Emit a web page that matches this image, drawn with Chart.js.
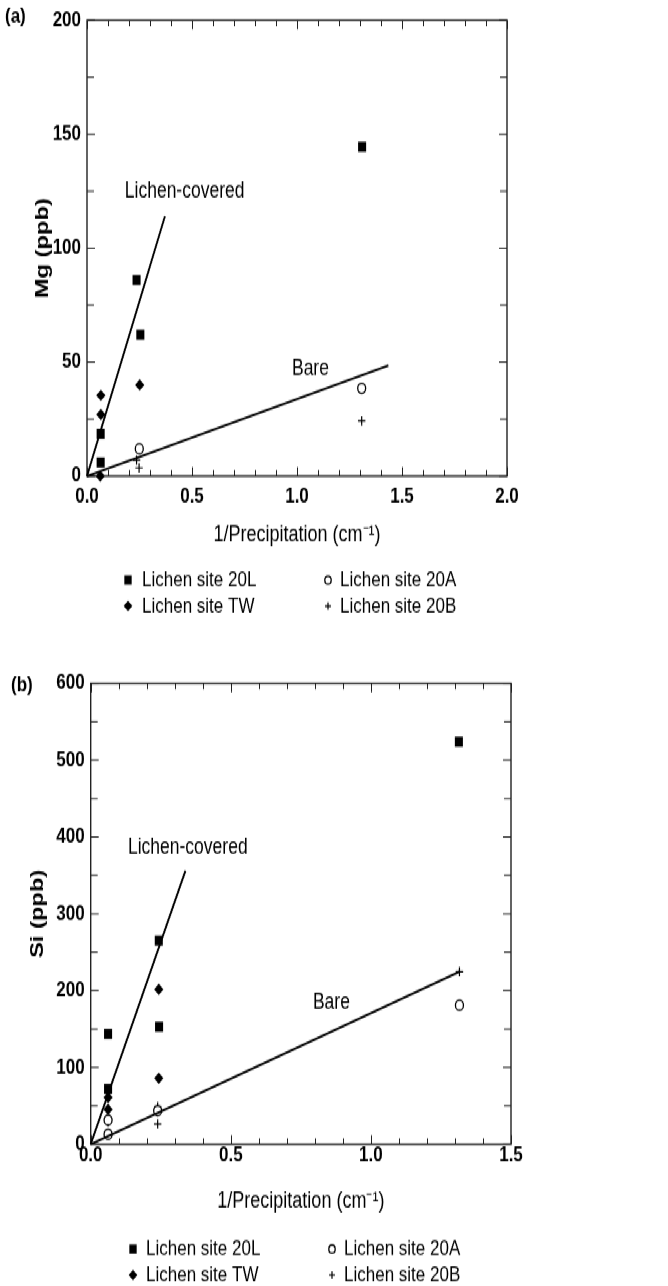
<!DOCTYPE html>
<html>
<head>
<meta charset="utf-8">
<script src="https://cdn.jsdelivr.net/npm/chart.js@4.4.1/dist/chart.umd.min.js"></script>
<style>
  body { margin: 0; background: #fff; }
  /* the printed figure is taller than it is wide by about 1.25 */
  #stage { position: absolute; left: 0; top: 0; width: 668px; height: 1029px;
           transform: scaleY(1.25); transform-origin: 0 0; }
  #stage canvas { position: absolute; left: 0; }
</style>
</head>
<body>
<div id="stage">
  <canvas id="chart-a" width="668" height="512" style="top:0"></canvas>
  <canvas id="chart-b" width="668" height="517" style="top:512px"></canvas>
</div>
<script>
// values, [1/precipitation, concentration]
const siteNames = ['Lichen site 20L', 'Lichen site TW', 'Lichen site 20A', 'Lichen site 20B'];

// (a) Mg
const mg20L = [[0.065, 18.5], [0.065, 6], [0.236, 86], [0.254, 62], [1.31, 144.5]];
const mgTW = [[0.066, 35.4], [0.066, 27], [0.251, 40], [0.063, 0]];
const mg20A = [[0.249, 12], [1.308, 38.5]];
const mg20B = [[0.236, 7], [0.248, 3.6], [1.308, 24.2]];
const mgLichenLine = [[0, 0], [0.371, 114]];
const mgBareLine = [[0, 0], [1.435, 48.5]];
const mgXLabels = ['0.0', '0.5', '1.0', '1.5', '2.0'];
const mgYLabels = ['0', '50', '100', '150', '200'];

// (b) Si
const si20L = [[0.062, 143.6], [0.062, 72], [0.243, 265], [0.244, 153], [1.314, 524]];
const siTW = [[0.243, 201.7], [0.243, 86], [0.062, 61], [0.062, 45.5]];
const si20A = [[1.316, 181], [0.239, 43.7], [0.062, 31.6], [0.062, 13]];
const si20B = [[1.316, 224.7], [0.239, 49], [0.239, 26.4], [0.062, 29]];
const siLichenLine = [[0, 0], [0.338, 356]];
const siBareLine = [[0, 0], [1.318, 225]];
const siXLabels = ['0.0', '0.5', '1.0', '1.5'];
const siYLabels = ['0', '100', '200', '300', '400', '500', '600'];

const FONT = '"Liberation Sans", Arial, Helvetica, sans-serif';

function pts(arr) {
    return arr.map(p => ({ x: p[0], y: p[1] }));
}

// marker styles, shared by plot and key
const markers = [
    { pointStyle: 'rect', radius: 5.7, keyRadius: 5.2, bg: '#000', border: '#000', bw: 0 },
    { pointStyle: 'rectRot', radius: 4.6, keyRadius: 4.3, bg: '#000', border: '#000', bw: 0 },
    { pointStyle: 'circle', radius: 4, keyRadius: 3.2, bg: '#fff', border: '#000', bw: 1.3 },
    { pointStyle: 'cross', radius: 3.7, keyRadius: 3, bg: '#000', border: '#000', bw: 1.2 }
];

function pointSet(label, data, m) {
    return {
        label: label,
        data: pts(data),
        pointStyle: m.pointStyle,
        pointRadius: m.radius,
        pointHoverRadius: m.radius,
        pointBackgroundColor: m.bg,
        pointBorderColor: m.border,
        pointBorderWidth: m.bw,
        showLine: false,
        clip: false
    };
}

function lineSet(label, data) {
    return {
        label: label,
        data: pts(data),
        showLine: true,
        borderColor: '#000',
        borderWidth: 1.9,
        pointRadius: 0,
        pointHoverRadius: 0,
        clip: false
    };
}

function isMajor(v, step) {
    return Math.abs(v / step - Math.round(v / step)) < 1e-6;
}

// box around the plot with inward ticks on all four sides
const framePlugin = {
    id: 'frame',
    beforeDatasetsDraw(chart, args, opts) {
        const ctx = chart.ctx;
        const a = chart.chartArea;
        const xs = chart.scales.x;
        const ys = chart.scales.y;
        ctx.save();
        ctx.strokeStyle = '#222';
        ctx.lineWidth = 1.4;
        ctx.strokeRect(a.left, a.top, a.right - a.left, a.bottom - a.top);
        ctx.lineWidth = 1;
        ctx.beginPath();
        xs.ticks.forEach(t => {
            const px = Math.round(xs.getPixelForValue(t.value)) + 0.5;
            const len = isMajor(t.value, opts.xMajor) ? 7.2 : 4.8;
            ctx.moveTo(px, a.bottom);
            ctx.lineTo(px, a.bottom - len);
            ctx.moveTo(px, a.top);
            ctx.lineTo(px, a.top + len);
        });
        ys.ticks.forEach(t => {
            const py = ys.getPixelForValue(t.value);
            const len = isMajor(t.value, opts.yMajor) ? 8 : 7;
            ctx.moveTo(a.left, py);
            ctx.lineTo(a.left + len, py);
            ctx.moveTo(a.right, py);
            ctx.lineTo(a.right - len, py);
        });
        ctx.stroke();
        ctx.restore();
    }
};

// line labels, panel letter and the two-column key
const textPlugin = {
    id: 'texts',
    afterDraw(chart, args, opts) {
        const ctx = chart.ctx;
        const xs = chart.scales.x;
        const ys = chart.scales.y;
        ctx.save();
        ctx.fillStyle = '#000';
        ctx.textBaseline = 'middle';
        ctx.textAlign = 'left';
        ctx.font = '17.5px ' + FONT;
        opts.notes.forEach(n => {
            ctx.fillText(n.text, xs.getPixelForValue(n.x), ys.getPixelForValue(n.y));
        });
        ctx.font = 'bold 17px ' + FONT;
        ctx.fillText(opts.panel.text, opts.panel.x, opts.panel.y);

        ctx.font = '17px ' + FONT;
        const order = [0, 2, 1, 3];
        order.forEach((k, i) => {
            const col = i % 2;
            const row = Math.floor(i / 2);
            const y = opts.key.rows[row];
            const m = markers[k];
            ctx.fillStyle = m.bg;
            ctx.strokeStyle = m.border;
            ctx.lineWidth = m.bw;
            Chart.helpers.drawPoint(ctx, {
                pointStyle: m.pointStyle,
                radius: m.keyRadius,
                rotation: 0,
                borderWidth: m.bw
            }, opts.key.marker[col], y);
            ctx.fillStyle = '#000';
            ctx.fillText(siteNames[k], opts.key.text[col], y + 0.5);
        });
        ctx.restore();
    }
};

function makeChart(id, cfg) {
    const h = document.getElementById(id).height;
    return new Chart(document.getElementById(id), {
        type: 'scatter',
        data: {
            datasets: [
                lineSet('Lichen-covered', cfg.lichenLine),
                lineSet('Bare', cfg.bareLine),
                pointSet(siteNames[0], cfg.s20L, markers[0]),
                pointSet(siteNames[1], cfg.sTW, markers[1]),
                pointSet(siteNames[2], cfg.s20A, markers[2]),
                pointSet(siteNames[3], cfg.s20B, markers[3])
            ]
        },
        options: {
            responsive: false,
            animation: false,
            devicePixelRatio: 1,
            events: [],
            layout: { padding: { left: 0, top: cfg.area.top, right: 668 - cfg.area.right, bottom: 0 } },
            plugins: {
                legend: { display: false },
                tooltip: { enabled: false },
                frame: { xMajor: cfg.xMajor, yMajor: cfg.yMajor },
                texts: { notes: cfg.notes, panel: cfg.panel, key: cfg.key }
            },
            scales: {
                x: {
                    type: 'linear',
                    min: 0,
                    max: cfg.xMax,
                    afterFit: s => { s.height = h - cfg.area.bottom; },
                    grid: { display: false, drawTicks: false },
                    border: { display: false },
                    ticks: {
                        stepSize: 0.1,
                        autoSkip: false,
                        maxRotation: 0,
                        padding: cfg.xPad,
                        color: '#000',
                        font: { family: FONT, size: 17, weight: 'bold' },
                        callback: v => {
                            if (!isMajor(v, cfg.xMajor)) return '';
                            return cfg.xLabels[Math.round(v / cfg.xMajor)];
                        }
                    },
                    title: {
                        display: true,
                        text: '1/Precipitation (cm\u207B\u00B9)',
                        color: '#000',
                        font: { family: FONT, size: 18 },
                        padding: { top: 0, bottom: cfg.xTitlePad }
                    }
                },
                y: {
                    type: 'linear',
                    min: 0,
                    max: cfg.yMax,
                    afterFit: s => { s.width = cfg.area.left; },
                    grid: { display: false, drawTicks: false },
                    border: { display: false },
                    ticks: {
                        stepSize: cfg.yMajor / 2,
                        autoSkip: false,
                        padding: 6,
                        color: '#000',
                        font: { family: FONT, size: 17, weight: 'bold' },
                        callback: v => {
                            if (!isMajor(v, cfg.yMajor)) return '';
                            return cfg.yLabels[Math.round(v / cfg.yMajor)];
                        }
                    },
                    title: {
                        display: true,
                        text: cfg.yTitle,
                        color: '#000',
                        font: { family: FONT, size: 19, weight: 'bold' },
                        padding: { top: cfg.yTitlePad, bottom: 0 }
                    }
                }
            }
        },
        plugins: [framePlugin, textPlugin]
    });
}

makeChart('chart-a', {
    lichenLine: mgLichenLine, bareLine: mgBareLine,
    s20L: mg20L, sTW: mgTW, s20A: mg20A, s20B: mg20B,
    xMax: 2.0, yMax: 200, xMajor: 0.5, yMajor: 50,
    xLabels: mgXLabels, yLabels: mgYLabels,
    yTitle: 'Mg (ppb)',
    area: { left: 87, right: 507, top: 12, bottom: 380.8 },
    xPad: 6, xTitlePad: 73, yTitlePad: 31,
    notes: [{ text: 'Lichen-covered', x: 0.18, y: 125 }, { text: 'Bare', x: 0.976, y: 47 }],
    panel: { text: '(a)', x: 5, y: 13.6 },
    key: { rows: [464, 484.8], marker: [128, 328], text: [142, 340] }
});

makeChart('chart-b', {
    lichenLine: siLichenLine, bareLine: siBareLine,
    s20L: si20L, sTW: siTW, s20A: si20A, s20B: si20B,
    xMax: 1.5, yMax: 600, xMajor: 0.5, yMajor: 100,
    xLabels: siXLabels, yLabels: siYLabels,
    yTitle: 'Si (ppb)',
    area: { left: 90.7, right: 511, top: 34.6, bottom: 403.4 },
    xPad: -1, xTitlePad: 57, yTitlePad: 26,
    notes: [{ text: 'Lichen-covered', x: 0.133, y: 386 }, { text: 'Bare', x: 0.793, y: 184 }],
    panel: { text: '(b)', x: 11, y: 36 },
    key: { rows: [487.2, 508], marker: [133, 332], text: [146, 344] }
});
</script>
</body>
</html>
